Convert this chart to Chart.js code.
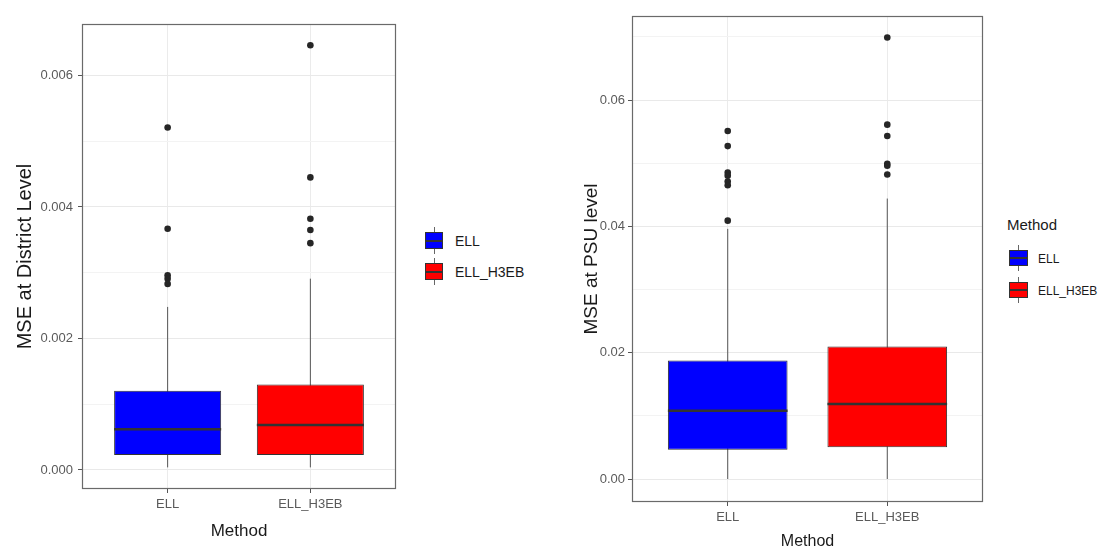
<!DOCTYPE html>
<html>
<head>
<meta charset="utf-8">
<script src="https://cdn.jsdelivr.net/npm/chart.js@4.4.1/dist/chart.umd.min.js"></script>
<style>
  html, body { margin: 0; padding: 0; background: #fff; width: 1098px; height: 547px; overflow: hidden; }
  body { position: relative; font-family: 'Liberation Sans', Arial, sans-serif; }
  canvas { position: absolute; top: 0; display: block; }
  .key { position: absolute; }
  .key .wh { position: absolute; left: 50%; width: 1px; margin-left: -0.5px; top: -5px; bottom: -5px; background: #666; }
  .key .bx { position: absolute; left: 0; top: 0; right: 0; bottom: 0; border: 1px solid #333; box-sizing: border-box; }
  .key .md { position: absolute; left: 1px; right: 1px; top: 50%; height: 2px; margin-top: -1px; background: #333; }
  .ltxt { position: absolute; color: #1a1a1a; white-space: nowrap; }
  .ltitle { position: absolute; color: #1a1a1a; white-space: nowrap; }
</style>
</head>
<body>
<canvas id="district" width="400" height="547" style="left:0px"></canvas>
<canvas id="psu" width="460" height="560" style="left:540px"></canvas>
<div id="legends"></div>
<script>
// ---------- data ----------
const categories = ['ELL', 'ELL_H3EB'];
const boxColors = ['#0000FF', '#FF0000'];

// MSE at District Level
const districtWhiskerLow  = [0.00004, 0.00004];
const districtQ1          = [0.000228, 0.000228];
const districtMedian      = [0.00062, 0.000685];
const districtQ3          = [0.001205, 0.0013];
const districtWhiskerHigh = [0.00248, 0.00291];
const districtOutliersELL  = [0.00521, 0.00367, 0.00296, 0.00291, 0.00283];
const districtOutliersH3EB = [0.00646, 0.00445, 0.00382, 0.00365, 0.00345];
const districtTicks      = [0, 0.001, 0.002, 0.003, 0.004, 0.005, 0.006];
const districtTickLabels = ['0.000', '', '0.002', '', '0.004', '', '0.006'];
const districtRange      = [-0.000289, 0.006783];

// MSE at PSU level
const psuWhiskerLow  = [0.0, 0.0];
const psuQ1          = [0.00464, 0.00502];
const psuMedian      = [0.0108, 0.01188];
const psuQ3          = [0.01875, 0.02096];
const psuWhiskerHigh = [0.0396, 0.0444];
const psuOutliersELL  = [0.0551, 0.0527, 0.0485, 0.0480, 0.0471, 0.0465, 0.0409];
const psuOutliersH3EB = [0.0699, 0.0561, 0.0543, 0.0499, 0.0496, 0.0482];
const psuTicks      = [0, 0.01, 0.02, 0.03, 0.04, 0.05, 0.06, 0.07];
const psuTickLabels = ['0.00', '', '0.02', '', '0.04', '', '0.06', ''];
const psuRange      = [-0.00364, 0.0733];

const xRange = [0.4, 2.6];
const BOX_HALF = 0.375;

// ---------- helpers ----------
Chart.defaults.font.family = "'Liberation Sans', Arial, sans-serif";

const panelBorder = {
  id: 'panelBorder',
  afterDatasetsDraw(chart) {
    const { ctx, chartArea: a } = chart;
    ctx.save();
    ctx.strokeStyle = '#6a6a6a';
    ctx.lineWidth = 1.2;
    ctx.strokeRect(a.left + 0.5, a.top + 0.5, a.right - a.left - 1, a.bottom - a.top - 1);
    ctx.restore();
  }
};

function buildDatasets(lo, q1, med, q3, hi, outliers) {
  const ds = [];
  categories.forEach((c, i) => {
    ds.push({
      type: 'line', label: c + ' whisker',
      data: [{ x: i + 1, y: lo[i] }, { x: i + 1, y: hi[i] }],
      borderColor: '#555', borderWidth: 1, pointRadius: 0, order: 3
    });
  });
  ds.push({
    type: 'bar', label: 'box',
    data: categories.map((c, i) => ({ x: i + 1, y: [q1[i], q3[i]] })),
    backgroundColor: boxColors, borderColor: '#333', borderWidth: 1,
    borderSkipped: false, barPercentage: 2 * BOX_HALF, categoryPercentage: 1, order: 2
  });
  categories.forEach((c, i) => {
    ds.push({
      type: 'line', label: c + ' median',
      data: [{ x: i + 1 - BOX_HALF, y: med[i] }, { x: i + 1 + BOX_HALF, y: med[i] }],
      borderColor: '#333', borderWidth: 2.5, borderCapStyle: 'butt', pointRadius: 0, order: 1
    });
  });
  ds.push({
    type: 'scatter', label: 'outliers',
    data: outliers.flatMap((arr, i) => arr.map(v => ({ x: i + 1, y: v }))),
    backgroundColor: '#262626', borderWidth: 0, pointRadius: 3.3, order: 0
  });
  return ds;
}

function makeChart(id, o) {
  return new Chart(document.getElementById(id), {
    type: 'scatter',
    data: { datasets: buildDatasets(o.lo, o.q1, o.med, o.q3, o.hi, o.outliers) },
    plugins: [panelBorder],
    options: {
      responsive: false, animation: false,
      layout: { padding: o.padding },
      plugins: { legend: { display: false }, tooltip: { enabled: false } },
      scales: {
        x: {
          type: 'linear', min: xRange[0], max: xRange[1], offset: false, bounds: 'data',
          afterBuildTicks: s => { s.ticks = categories.map((c, i) => ({ value: i + 1 })); },
          afterFit: s => { s.height = o.xAxisHeight; },
          grid: { offset: false, color: '#ebebeb', lineWidth: 1, tickColor: '#555', tickLength: 4 },
          border: { display: false },
          ticks: {
            padding: 4, color: '#5a5a5a', font: { size: 13 },
            callback: (v, i) => categories[i]
          },
          title: { display: true, text: 'Method', color: '#1a1a1a', font: { size: o.xTitleSize }, padding: { top: 0, bottom: o.xTitlePad } }
        },
        y: {
          type: 'linear', min: o.range[0], max: o.range[1], beginAtZero: false, bounds: 'data',
          afterBuildTicks: s => { s.ticks = o.ticks.map(v => ({ value: v })); },
          afterFit: s => { s.width = o.yAxisWidth; },
          grid: {
            color: c => (o.tickLabels[c.index] ? '#e9e9e9' : '#f3f3f3'),
            tickColor: c => (o.tickLabels[c.index] ? '#555' : 'rgba(0,0,0,0)'),
            lineWidth: 1, tickLength: 4
          },
          border: { display: false },
          ticks: {
            padding: o.yTickPad, color: '#5a5a5a', font: { size: 13 },
            callback: (v, i) => o.tickLabels[i]
          },
          title: { display: true, text: o.yTitle, color: '#1a1a1a', font: { size: o.yTitleSize }, padding: { top: o.yTitlePad, bottom: 0 } }
        }
      }
    }
  });
}

makeChart('district', {
  lo: districtWhiskerLow, q1: districtQ1, med: districtMedian, q3: districtQ3, hi: districtWhiskerHigh,
  outliers: [districtOutliersELL, districtOutliersH3EB],
  ticks: districtTicks, tickLabels: districtTickLabels, range: districtRange,
  padding: { top: 24, right: 3, left: 0, bottom: 0 },
  xAxisHeight: 58, yAxisWidth: 82, yTickPad: 5,
  yTitle: 'MSE at District Level', yTitleSize: 20, yTitlePad: 13,
  xTitleSize: 17, xTitlePad: 5
});

makeChart('psu', {
  lo: psuWhiskerLow, q1: psuQ1, med: psuMedian, q3: psuQ3, hi: psuWhiskerHigh,
  outliers: [psuOutliersELL, psuOutliersH3EB],
  ticks: psuTicks, tickLabels: psuTickLabels, range: psuRange,
  padding: { top: 16, right: 17, left: 0, bottom: 0 },
  xAxisHeight: 58, yAxisWidth: 92, yTickPad: 3,
  yTitle: 'MSE at PSU level', yTitleSize: 19, yTitlePad: 40,
  xTitleSize: 16, xTitlePad: 9
});

// ---------- ggplot-style legends (HTML) ----------
function buildLegend(cfg) {
  const root = document.getElementById('legends');
  if (cfg.title) {
    const t = document.createElement('div');
    t.className = 'ltitle';
    t.textContent = cfg.title;
    t.style.left = cfg.titleLeft + 'px';
    t.style.top = cfg.titleTop + 'px';
    t.style.fontSize = cfg.titleSize + 'px';
    root.appendChild(t);
  }
  categories.forEach((c, i) => {
    const k = document.createElement('div');
    k.className = 'key';
    k.style.left = cfg.keyLeft + 'px';
    k.style.top = cfg.keyTops[i] + 'px';
    k.style.width = cfg.keyW + 'px';
    k.style.height = cfg.keyH + 'px';
    k.innerHTML = '<div class="wh"></div><div class="bx" style="background:' + boxColors[i] + '"></div><div class="md"></div>';
    root.appendChild(k);
    const t = document.createElement('div');
    t.className = 'ltxt';
    t.textContent = c;
    t.style.left = cfg.textLeft + 'px';
    t.style.top = (cfg.keyTops[i] + cfg.textShift) + 'px';
    t.style.height = cfg.keyH + 'px';
    t.style.lineHeight = cfg.keyH + 'px';
    t.style.fontSize = cfg.textSize + 'px';
    root.appendChild(t);
  });
}

buildLegend({ keyLeft: 425, keyTops: [232, 263], keyW: 18, keyH: 17, textLeft: 455, textSize: 14, textShift: 1 });
buildLegend({ title: 'Method', titleLeft: 1007, titleTop: 216, titleSize: 15,
  keyLeft: 1009, keyTops: [250, 282], keyW: 19, keyH: 16, textLeft: 1038, textSize: 12, textShift: 1 });
</script>
</body>
</html>
